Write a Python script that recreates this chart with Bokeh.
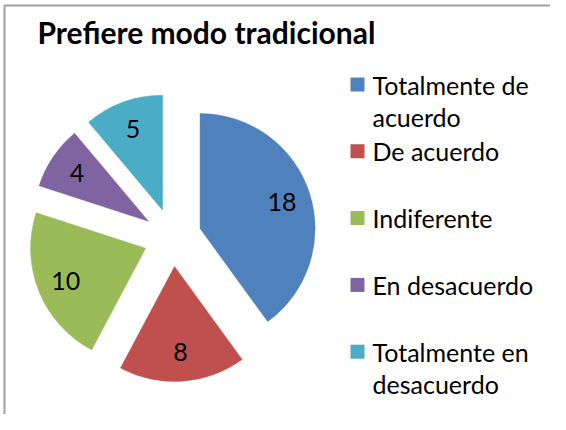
import math
from bokeh.plotting import figure
from bokeh.models import Range1d, ColumnDataSource
from bokeh.core.properties import value
from bokeh.embed import file_html
from bokeh.resources import INLINE

# ---- data ----
title_text = "Prefiere modo tradicional"
categories = ["Totalmente de\nacuerdo", "De acuerdo", "Indiferente",
              "En desacuerdo", "Totalmente en\ndesacuerdo"]
counts = [18, 8, 10, 4, 5]
colors = ["#4F81BD", "#C0504D", "#9BBB59", "#8064A2", "#4BACC6"]

# ---- layout (pixel-based data space) ----
W, H = 550, 414
FONT = "Lato"
CX, CY = 172, 177          # pie centre
R = 115                    # radius
EXPLODE = 29               # explosion offset
LABEL_F = 0.75             # label distance as fraction of radius

p = figure(width=W, height=H, output_backend="svg", toolbar_location=None,
           x_range=Range1d(0, W), y_range=Range1d(0, H), min_border=0)
p.axis.visible = False
p.grid.visible = False
p.outline_line_color = None
p.background_fill_color = "white"
p.border_fill_color = "white"

# chart area frame (left and top edges visible)
p.line(x=[4, 4, W + 20], y=[-20, 409, 409], line_color="#a0a0a0", line_width=2)

total = float(sum(counts))
starts, ends, xs, ys, lx, ly = [], [], [], [], [], []
cum = 0.0
for v in counts:
    a0 = math.pi / 2 - 2 * math.pi * cum / total
    cum += v
    a1 = math.pi / 2 - 2 * math.pi * cum / total
    mid = (a0 + a1) / 2
    x0 = CX + EXPLODE * math.cos(mid)
    y0 = CY + EXPLODE * math.sin(mid)
    starts.append(a1)
    ends.append(a0)
    xs.append(x0)
    ys.append(y0)
    lx.append(x0 + LABEL_F * R * math.cos(mid))
    ly.append(y0 + LABEL_F * R * math.sin(mid))

src = ColumnDataSource(dict(x=xs, y=ys, start=starts, end=ends, color=colors,
                            lx=lx, ly=ly, txt=[str(c) for c in counts]))
p.wedge(x="x", y="y", radius=R, start_angle="start", end_angle="end",
        direction="anticlock", fill_color="color", line_color="color",
        line_width=0.5, source=src)
p.text(x="lx", y="ly", text="txt", source=src, text_font=value(FONT),
       text_font_size="25px", text_align="center", text_baseline="middle",
       text_color="black")

# title
p.text(x=[37], y=[383], text=[title_text], text_font=value(FONT),
       text_font_size="30px", text_font_style="bold", text_align="left",
       text_baseline="middle", text_color="black")

# legend
LEG_X, LEG_Y0, LEG_DY, LINE_H, SQ = 357, 330, 66.8, 32, 14
sq_y = [LEG_Y0 - i * LEG_DY for i in range(len(categories))]
p.rect(x=[LEG_X] * len(categories), y=sq_y, width=SQ, height=SQ,
       fill_color=colors, line_color=None)
tx, ty, tt = [], [], []
for i, lab in enumerate(categories):
    for k, line in enumerate(lab.split("\n")):
        tx.append(372)
        ty.append(sq_y[i] - k * LINE_H)
        tt.append(line)
p.text(x=tx, y=ty, text=tt, text_font=value(FONT), text_font_size="25px",
       text_align="left", text_baseline="middle", text_color="black")

open("out.html", "w").write(file_html(p, INLINE))
